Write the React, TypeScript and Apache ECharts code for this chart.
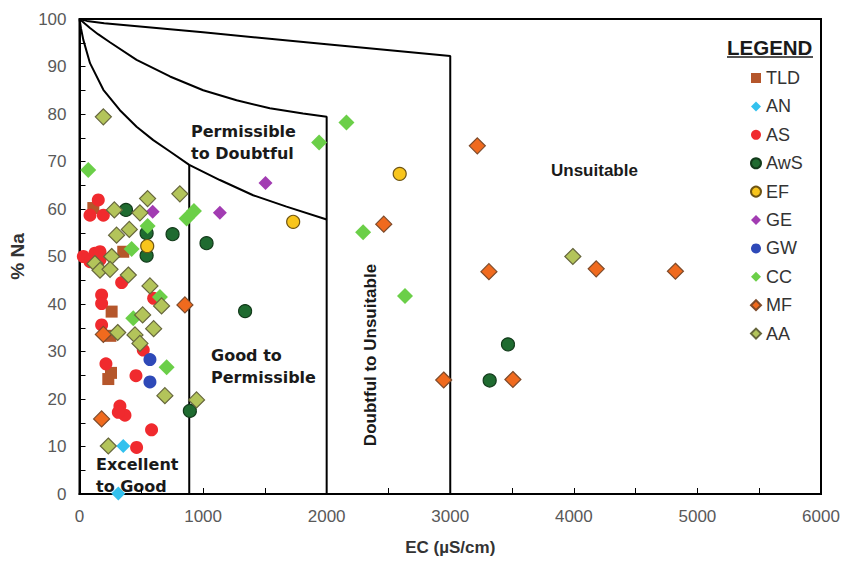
import React, { useEffect, useRef } from "react";
import * as echarts from "echarts";

// ---- data: [EC (µS/cm), % Na] ----
const TLD = [[112, 60.2], [354, 51], [260, 38.4], [250, 33.3], [233, 24.2], [255, 25.5]];
const AN = [[354, 10.1], [314, 0.1]];
const AS = [[152, 61.9], [85, 58.7], [193, 58.7], [125, 50.7], [31, 50], [85, 48.9], [166, 49.3], [166, 51], [341, 44.5], [179, 41.9], [179, 40.1], [600, 41.2], [179, 35.6], [516, 30.3], [214, 27.4], [457, 24.9], [327, 18.5], [368, 16.6], [314, 17.2], [583, 13.5], [462, 9.8]];
const AWS = [[376, 59.8], [543, 54.9], [543, 50.2], [753, 54.7], [1028, 52.8], [1340, 38.5], [893, 17.5], [3467, 31.5], [3319, 23.9]];
const EF = [[548, 52.2], [1729, 57.3], [2591, 67.4]];
const GE = [[592, 59.4], [1136, 59.2], [1505, 65.5]];
const GW = [[570, 28.3], [570, 23.6]];
const CC = [[71, 68.2], [2160, 78.2], [1939, 74], [2295, 55.1], [2634, 41.7], [926, 59.6], [867, 58], [551, 56.4], [422, 51.6], [435, 37], [651, 41.5], [705, 26.7]];
const MF = [[3219, 73.3], [2462, 56.8], [3313, 46.8], [4181, 47.4], [4822, 46.9], [2947, 24], [3507, 24.1], [853, 39.8], [193, 33.6], [179, 15.8]];
const AA = [[193, 79.4], [551, 62.2], [812, 63.2], [282, 59.8], [489, 59.2], [300, 54.5], [403, 55.7], [260, 50], [125, 48.5], [166, 47.1], [247, 47.3], [395, 46.1], [570, 43.8], [664, 39.6], [511, 37.7], [600, 34.8], [309, 34], [449, 33.5], [489, 31.7], [691, 20.7], [947, 19.8], [233, 10.1], [3992, 50]];

// Wilcox boundaries
const CURVE_TOP = [[0, 100], [60, 99.6], [200, 99.1], [1000, 97.2], [2000, 94.7], [3000, 92.2], [3000, 0]];
const CURVE_MID = [[0, 100], [40, 99.1], [85, 98.1], [150, 96.8], [246, 95.1], [462, 91.4], [732, 87.9], [1001, 85], [1271, 82.9], [1540, 81.2], [1809, 80.1], [2000, 79.4], [2000, 0]];
const CURVE_LOW = [[0, 100], [12, 98], [31, 95.6], [85, 90.7], [193, 85.1], [327, 80.8], [462, 77.3], [597, 74.5], [732, 72.1], [888, 69.3], [1136, 66.1], [1405, 62.9], [1675, 60.5], [2000, 57.8]];
const VLINE_LOW = [[888, 69.3], [888, 0]];

const LEGEND_NAMES = ["TLD", "AN", "AS", "AwS", "EF", "GE", "GW", "CC", "MF", "AA"];

const FONT = "'Liberation Sans', Arial, sans-serif";
const WIDE = "'DejaVu Sans', Verdana, sans-serif";

export default function App() {
  const ref = useRef<HTMLDivElement>(null);
  useEffect(() => {
    if (!ref.current) return;
    const chart = echarts.init(ref.current, null, { renderer: "svg" });
    const pt = (name: string, data: number[][], symbol: string, size: number, color: string, border?: string) => ({
      name,
      type: "scatter",
      data,
      symbol,
      symbolSize: size,
      itemStyle: { color, opacity: 1, borderColor: border || color, borderWidth: border ? 1.2 : 0 },
      z: 3,
    });
    const bline = (data: number[][]) => ({
      type: "line",
      data,
      showSymbol: false,
      silent: true,
      lineStyle: { color: "#000", width: 2 },
      z: 2,
    });
    const wideText = { fontFamily: WIDE, fontSize: 16, fontWeight: "bold", fill: "#1a1a1a", lineHeight: 22 };
    const armText = { fontFamily: FONT, fontSize: 17, fontWeight: "bold", fill: "#1a1a1a", lineHeight: 22 };
    chart.setOption({
      animation: false,
      textStyle: { fontFamily: FONT },
      grid: { left: 79.5, right: 27, top: 19, bottom: 67, show: true, borderColor: "#000", borderWidth: 2, containLabel: false },
      xAxis: {
        type: "value",
        min: 0,
        max: 6000,
        interval: 1000,
        name: "EC (µS/cm)",
        nameLocation: "middle",
        nameGap: 45,
        nameTextStyle: { fontSize: 17, fontWeight: "bold", color: "#333", fontFamily: FONT },
        axisLine: { lineStyle: { color: "#000", width: 2 } },
        axisTick: { inside: true, length: 6, lineStyle: { color: "#000", width: 1 } },
        minorTick: { show: true, splitNumber: 2, length: 6, lineStyle: { color: "#000", width: 1 } },
        axisLabel: { fontSize: 17, color: "#595959", margin: 14, fontFamily: FONT, formatter: (v: number) => String(v) },
        splitLine: { show: false },
      },
      yAxis: {
        type: "value",
        min: 0,
        max: 100,
        interval: 10,
        name: "% Na",
        nameLocation: "middle",
        nameGap: 45,
        nameTextStyle: { fontSize: 19, fontWeight: "bold", color: "#333", fontFamily: FONT },
        axisLine: { lineStyle: { color: "#000", width: 2 } },
        axisTick: { inside: true, length: 6, lineStyle: { color: "#000", width: 1 } },
        minorTick: { show: true, splitNumber: 2, length: 6, lineStyle: { color: "#000", width: 1 } },
        axisLabel: { fontSize: 17, color: "#595959", margin: 13, fontFamily: FONT },
        splitLine: { show: false },
      },
      legend: {
        orient: "vertical",
        left: 750,
        top: 69,
        padding: 0,
        itemWidth: 10,
        itemHeight: 10,
        itemGap: 10.4,
        textStyle: { fontSize: 18, color: "#333", fontFamily: FONT, lineHeight: 18 },
        data: LEGEND_NAMES,
      },
      graphic: [
        { type: "text", left: 727, top: 35, style: { ...armText, fontSize: 20.5, lineHeight: 24, text: "LEGEND" } },
        { type: "line", shape: { x1: 727, y1: 57, x2: 813, y2: 57 }, style: { stroke: "#1a1a1a", lineWidth: 1.5 } },
        { type: "text", left: 191, top: 120, style: { ...wideText, text: "Permissible\nto Doubtful" } },
        { type: "text", left: 551, top: 159, style: { ...armText, text: "Unsuitable" } },
        { type: "text", left: 211, top: 344, style: { ...wideText, text: "Good to\nPermissible" } },
        { type: "text", left: 96, top: 453, style: { ...wideText, text: "Excellent\nto Good" } },
        {
          type: "text",
          x: 370,
          y: 355,
          rotation: Math.PI / 2,
          style: { ...armText, text: "Doubtful to Unsuitable", align: "center", verticalAlign: "middle" },
        },
      ],
      series: [
        bline(CURVE_TOP),
        bline(CURVE_MID),
        bline(CURVE_LOW),
        bline(VLINE_LOW),
        pt("TLD", TLD, "rect", 12, "#B5562B"),
        pt("AN", AN, "diamond", 14, "#33C1EE"),
        pt("AS", AS, "circle", 13, "#F02A2E"),
        pt("AwS", AWS, "circle", 13, "#1F6B30", "#123a1a"),
        pt("EF", EF, "circle", 13, "#F8C51C", "#6e5414"),
        pt("GE", GE, "diamond", 14, "#A23CB2"),
        pt("GW", GW, "circle", 13, "#2E49B8"),
        pt("CC", CC, "diamond", 16, "#6BCF48"),
        pt("MF", MF, "diamond", 16, "#F06A1E", "#7d4a2a"),
        pt("AA", AA, "diamond", 16, "#B3C45A", "#66663c"),
      ],
    });
    return () => chart.dispose();
  }, []);
  return <div ref={ref} style={{ width: 848, height: 561, position: "absolute", left: 0, top: 0 }} />;
}
